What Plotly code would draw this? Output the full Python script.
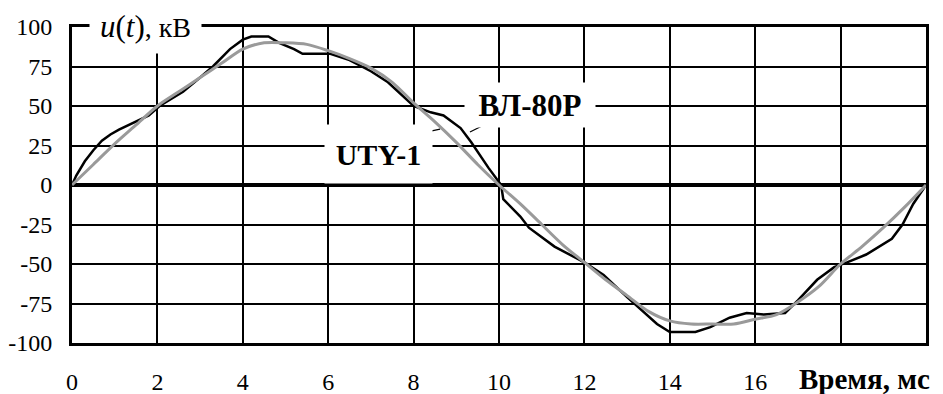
import plotly.graph_objects as go

# ---- data (time in ms, voltage in kV) ----
t_vl80 = [0, 0.1, 0.3, 0.5, 0.7, 0.9, 1.1, 1.3, 1.6, 1.8, 2.05, 2.6, 3.0, 3.3, 3.7, 4.0,
          4.2, 4.6, 4.85, 5.2, 5.4, 6.05, 6.5, 7.0, 7.4, 8.0, 8.4, 8.7, 9.1, 9.35, 9.75,
          10.05, 10.1, 10.5, 10.7, 11.3, 12.0, 12.45, 13.0, 13.25, 13.7, 14.0, 14.6, 14.95,
          15.4, 15.8, 16.2, 16.7, 17.0, 17.45, 17.85, 18.15, 18.6, 19.2, 19.45, 19.7, 20.0]
u_vl80 = [0, 6, 15, 22, 28, 32, 35, 37.5, 41, 44, 50, 59, 68, 75, 86, 92,
          94, 94, 90, 86, 83, 83, 79, 72, 65, 50, 46, 44, 36, 27, 11,
          0, -9, -20, -27, -39, -49, -57, -71, -77, -88, -93, -93, -90,
          -84, -81, -82, -81, -73, -60, -52, -49, -44, -34, -25, -12, 0]

t_uty = [0, 0.5, 1.0, 1.5, 2.0, 2.5, 3.0, 3.5, 4.0, 4.5, 5.0, 5.5, 6.0, 6.5, 7.0, 7.5,
         8.0, 8.5, 9.0, 9.5, 10.0, 10.5, 11.0, 11.5, 12.0, 12.5, 13.0, 13.5, 14.0, 14.5,
         15.0, 15.5, 16.0, 16.5, 17.0, 17.5, 18.0, 18.5, 19.0, 19.5, 20.0]
u_uty = [0, 13, 26, 38, 50, 59, 68, 77, 86, 90, 90, 89, 85, 80, 74, 65,
         52, 40, 27, 13, 0, -12, -25, -38, -49, -60, -70, -80, -86, -88,
         -88, -88, -85, -82, -74, -64, -50, -39, -27, -14, 0]

x_tickvals = [0, 2, 4, 6, 8, 10, 12, 14, 16, 18, 20]
x_ticktext = ["0", "2", "4", "6", "8", "10", "12", "14", "16", "", ""]
y_tickvals = [100, 75, 50, 25, 0, -25, -50, -75, -100]
y_ticktext = ["100", "75", "50", "25", "0", "-25", "-50", "-75", "-100"]

series_names = ["ВЛ-80Р", "UTY-1"]
y_title = "<i><span style='font-size:31px'>u</span></i><span style='font-size:31px'>(</span><i><span style='font-size:31px'>t</span></i><span style='font-size:31px'>)</span>, кВ"
x_title = "Время, мс"

# leader lines (data coords): label end -> curve end
leader_uty = ([7.63, 8.62], [29.7, 35.4])
leader_vl = ([9.32, 9.79], [33.5, 39.9])

FONT = "Liberation Serif"

fig = go.Figure()
fig.add_trace(go.Scatter(x=t_vl80, y=u_vl80, mode="lines", name=series_names[0],
                         line=dict(color="black", width=2.5), hoverinfo="skip"))
fig.add_trace(go.Scatter(x=t_uty, y=u_uty, mode="lines", name=series_names[1],
                         line=dict(color="#9a9a9a", width=3, shape="spline", smoothing=0.8),
                         hoverinfo="skip"))

for xs, ys in (leader_uty, leader_vl):
    fig.add_shape(type="line", xref="x", yref="y", x0=xs[0], y0=ys[0], x1=xs[1], y1=ys[1],
                  line=dict(color="black", width=1.2))

fig.update_layout(
    width=943, height=394,
    margin=dict(l=72, r=17, t=27, b=51),
    paper_bgcolor="white", plot_bgcolor="white",
    showlegend=False,
    font=dict(family=FONT, size=24, color="black"),
)
fig.update_xaxes(range=[0, 20], tickvals=x_tickvals, ticktext=x_ticktext, automargin=False,
                 showgrid=True, gridcolor="black", gridwidth=2,
                 showline=True, linecolor="black", linewidth=3, mirror=True,
                 zeroline=False, ticks="", ticklabelstandoff=15,
                 tickfont=dict(family=FONT, size=24, color="black"))
fig.update_yaxes(range=[-100, 100], tickvals=y_tickvals, ticktext=y_ticktext, automargin=False,
                 showgrid=True, gridcolor="black", gridwidth=2,
                 showline=True, linecolor="black", linewidth=3, mirror=True,
                 zeroline=True, zerolinecolor="black", zerolinewidth=4,
                 ticks="", ticklabelstandoff=12,
                 tickfont=dict(family=FONT, size=24, color="black"))

# axis label on the top border
fig.add_annotation(x=1.71, y=94.9, xref="x", yref="y", yshift=4, text=y_title, showarrow=False,
                   font=dict(family=FONT, size=28, color="black"),
                   bgcolor="white", width=111, height=44, valign="top", borderpad=0)
# series labels with white boxes
fig.add_annotation(x=10.73, y=50.6, xref="x", yref="y", text="<b>%s</b>" % series_names[0],
                   showarrow=False, font=dict(family=FONT, size=31, color="black"),
                   bgcolor="white", width=130, height=44, borderpad=0)
fig.add_annotation(x=7.18, y=19.6, xref="x", yref="y", text="<b>%s</b>" % series_names[1],
                   showarrow=False, font=dict(family=FONT, size=30, color="black"),
                   bgcolor="white", width=107, height=58, borderpad=0)
# x-axis title in place of the last tick labels
fig.add_annotation(x=18.55, y=0, xref="x", yref="paper", yanchor="middle", yshift=-36,
                   text="<b>%s</b>" % x_title, showarrow=False,
                   font=dict(family=FONT, size=29, color="black"))

fig.write_html("out.html")
